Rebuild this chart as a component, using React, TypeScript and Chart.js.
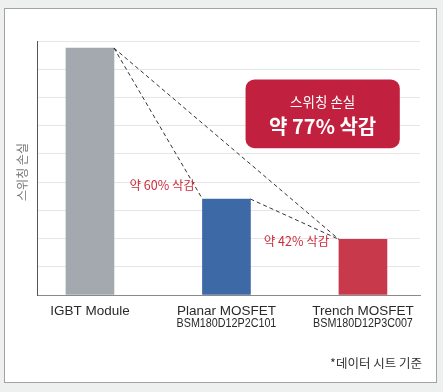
import React, { useEffect, useRef } from "react";
import { Chart, registerables } from "chart.js";

Chart.register(...registerables);

const categories: string[][] = [
  ["IGBT Module"],
  ["Planar MOSFET", "BSM180D12P2C101"],
  ["Trench MOSFET", "BSM180D12P3C007"],
];
const lossValues: number[] = [8.75, 3.4, 1.97];
const barColors: string[] = ["#a4a9b0", "#3d6aa6", "#c9394c"];
const yTitle = "스위칭 손실";
const boxTitle = "스위칭 손실";
const boxValue = "약 77% 삭감";
const cut60 = "약 60% 삭감";
const cut42 = "약 42% 삭감";
const footnote = "*데이터 시트 기준";

const LATIN = '"Liberation Sans", "Noto Sans CJK KR", sans-serif';
const KR = '"Noto Sans CJK KR", "Liberation Sans", sans-serif';

const decor = {
  id: "decor",
  beforeDraw(chart: any) {
    const ctx = chart.ctx;
    ctx.save();
    ctx.fillStyle = "#eef0ef";
    ctx.fillRect(0, 0, chart.width, chart.height);
    ctx.fillStyle = "#ffffff";
    ctx.fillRect(4.5, 8.5, 432, 374);
    ctx.strokeStyle = "#a3a3a3";
    ctx.lineWidth = 1;
    ctx.strokeRect(4.5, 8.5, 432, 374);
    ctx.restore();
  },
  afterDatasetsDraw(chart: any) {
    const ctx = chart.ctx;
    const xs = chart.scales.x;
    const ys = chart.scales.y;
    const bars = chart.getDatasetMeta(0).data;
    const tr = (b: any) => [b.x + b.width / 2, b.y];
    const tl = (b: any) => [b.x - b.width / 2, b.y];
    ctx.save();
    ctx.strokeStyle = "#333333";
    ctx.lineWidth = 1;
    ctx.setLineDash([4, 3]);
    const seg = (a: number[], b: number[]) => {
      ctx.beginPath();
      ctx.moveTo(a[0], a[1]);
      ctx.lineTo(b[0], b[1]);
      ctx.stroke();
    };
    seg(tr(bars[0]), tl(bars[1]));
    seg(tr(bars[0]), tl(bars[2]));
    seg(tr(bars[1]), tl(bars[2]));
    ctx.setLineDash([]);

    // red callout box
    const bx0 = xs.getPixelForValue(1.14);
    const bx1 = xs.getPixelForValue(2.27);
    const by0 = ys.getPixelForValue(7.64);
    const by1 = ys.getPixelForValue(5.2);
    ctx.fillStyle = "#c1213e";
    ctx.beginPath();
    (ctx as any).roundRect(bx0, by0, bx1 - bx0, by1 - by0, 9);
    ctx.fill();
    ctx.fillStyle = "#ffffff";
    ctx.textAlign = "center";
    ctx.textBaseline = "middle";
    const cx = (bx0 + bx1) / 2;
    ctx.font = `13.5px ${KR}`;
    ctx.fillText(boxTitle, cx, by0 + 22.5);
    ctx.font = `bold 20px ${KR}`;
    ctx.fillText(boxValue, cx, by0 + 47);

    // reduction notes
    ctx.fillStyle = "#cc2d3c";
    ctx.font = `12.5px ${KR}`;
    ctx.fillText(cut60, xs.getPixelForValue(0.53), ys.getPixelForValue(3.89));
    ctx.fillText(cut42, xs.getPixelForValue(1.513), ys.getPixelForValue(1.91));

    // category labels
    ctx.fillStyle = "#2a2a2a";
    categories.forEach((lines, i) => {
      const px = xs.getPixelForValue(i);
      ctx.font = `13.5px ${LATIN}`;
      ctx.fillText(lines[0], px, 311);
      if (lines[1]) {
        ctx.save();
        ctx.translate(px, 324);
        ctx.scale(0.86, 1);
        ctx.font = `12.5px ${LATIN}`;
        ctx.fillText(lines[1], 0, 0);
        ctx.restore();
      }
    });

    // y title
    ctx.save();
    ctx.translate(22.5, 172);
    ctx.rotate(-Math.PI / 2);
    ctx.fillStyle = "#777777";
    ctx.font = `12px ${KR}`;
    ctx.fillText(yTitle, 0, 0);
    ctx.restore();

    // footnote
    ctx.fillStyle = "#333333";
    ctx.textAlign = "right";
    ctx.font = `12.5px ${KR}`;
    ctx.fillText(footnote, 422, 363);
    ctx.restore();
  },
};

export default function App() {
  const ref = useRef<HTMLCanvasElement>(null);
  useEffect(() => {
    document.body.style.margin = "0";
    const chart = new Chart(ref.current!, {
      type: "bar",
      data: {
        datasets: [
          {
            data: lossValues.map((v, i) => ({ x: i, y: v })),
            backgroundColor: barColors,
            barThickness: 48,
            borderWidth: 0,
          },
        ],
      },
      options: {
        responsive: false,
        animation: false,
        layout: { padding: { left: 37, right: 23, top: 41, bottom: 97 } },
        plugins: { legend: { display: false }, tooltip: { enabled: false } },
        scales: {
          x: {
            type: "linear",
            offset: false,
            min: -0.388,
            max: 2.418,
            grid: { display: false, drawTicks: false, offset: false },
            ticks: { display: false },
            border: { display: true, color: "#8a8a8a", width: 1 },
          },
          y: {
            min: 0,
            max: 9,
            ticks: { display: false, stepSize: 1 },
            grid: { color: "#e6e6e6", drawTicks: false, tickLength: 0 },
            border: { display: true, color: "#555555", width: 1 },
          },
        },
      },
      plugins: [decor],
    });
    return () => chart.destroy();
  }, []);
  return <canvas ref={ref} width={443} height={392} style={{ display: "block" }} />;
}
